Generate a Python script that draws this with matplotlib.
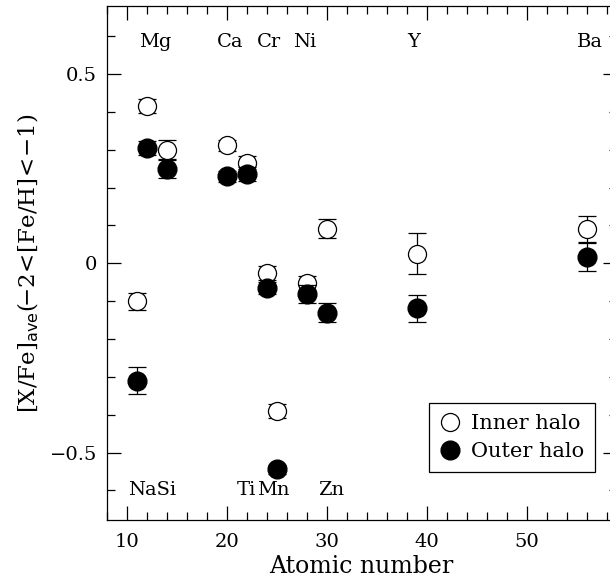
import matplotlib
matplotlib.use('Agg')
import matplotlib.pyplot as plt
from matplotlib.lines import Line2D
from matplotlib.ticker import MultipleLocator, FuncFormatter

# atomic numbers: Na Mg Si Ca Ti Cr Mn Ni Zn Y Ba
atomic_z = [11, 12, 14, 20, 22, 24, 25, 28, 30, 39, 56]

inner_val = [-0.10, 0.415, 0.300, 0.312, 0.266, -0.026, -0.390, -0.052, 0.092, 0.026, 0.090]
inner_err = [0.022, 0.018, 0.025, 0.014, 0.018, 0.018, 0.018, 0.018, 0.024, 0.053, 0.036]

outer_val = [-0.31, 0.305, 0.250, 0.230, 0.236, -0.065, -0.544, -0.080, -0.130, -0.119, 0.018]
outer_err = [0.035, 0.018, 0.024, 0.014, 0.018, 0.015, 0.012, 0.024, 0.026, 0.035, 0.038]

top_labels = ['Mg', 'Ca', 'Cr', 'Ni', 'Y', 'Ba']
top_label_x = [11.2, 19.0, 23.0, 26.6, 38.0, 55.0]
bottom_labels = ['NaSi', 'Ti', 'Mn', 'Zn']
bottom_label_x = [10.1, 21.0, 23.0, 29.1]

plt.rcParams['font.family'] = ['DejaVu Serif']
plt.rcParams['mathtext.fontset'] = 'dejavuserif'

fig = plt.figure(figsize=(6.1, 5.82), dpi=100)
ax = fig.add_axes([0.175, 0.1065, 0.836, 0.8833])

ax.errorbar(atomic_z, inner_val, yerr=inner_err, fmt='o', ms=13,
            mfc='white', mec='black', mew=0.9, ecolor='black',
            elinewidth=0.9, capsize=6.5, capthick=0.9, zorder=3)
ax.errorbar(atomic_z, outer_val, yerr=outer_err, fmt='o', ms=13.5,
            mfc='black', mec='black', ecolor='black',
            elinewidth=0.9, capsize=6.5, capthick=0.9, zorder=4)

for lab, x in zip(top_labels, top_label_x):
    ax.text(x, 0.585, lab, ha='left', va='center', fontsize=14)
for lab, x in zip(bottom_labels, bottom_label_x):
    ax.text(x, -0.60, lab, ha='left', va='center', fontsize=14)

ax.set_xlim(8, 59)
ax.set_ylim(-0.678, 0.68)
ax.xaxis.set_major_locator(MultipleLocator(10))
ax.xaxis.set_minor_locator(MultipleLocator(2))
ax.yaxis.set_major_locator(MultipleLocator(0.5))
ax.yaxis.set_minor_locator(MultipleLocator(0.1))
ax.yaxis.set_major_formatter(FuncFormatter(
    lambda v, p: '0' if abs(v) < 1e-9 else f'{v:.1f}'.replace('-', '\u2212')))
ax.tick_params(which='both', direction='in', top=True, right=True,
               labelsize=14, width=0.9)
ax.tick_params(which='major', length=10)
ax.tick_params(which='minor', length=5.5)
ax.tick_params(axis='x', pad=9)
ax.tick_params(axis='y', pad=7)
for s in ax.spines.values():
    s.set_linewidth(0.9)

ax.set_xlabel('Atomic number', fontsize=17, labelpad=3)
ax.set_ylabel(r'$[\mathrm{X/Fe}]_{\mathsf{ave}}(\!{-}2\!<\![\mathrm{Fe/H}]\!<\!{-}1)$',
              fontsize=16.5, labelpad=6)

handles = [Line2D([], [], ls='none', marker='o', ms=13, mfc='white', mec='black', mew=0.9),
           Line2D([], [], ls='none', marker='o', ms=13.5, mfc='black', mec='black')]
leg = ax.legend(handles, ['Inner halo', 'Outer halo'], loc='lower right',
                bbox_to_anchor=(0.9575, 0.094), borderaxespad=0, fontsize=15,
                fancybox=False, edgecolor='black', framealpha=1,
                handlelength=1.0, handletextpad=0.55, borderpad=0.5,
                labelspacing=0.45)
leg.get_frame().set_linewidth(0.9)

fig.savefig('out.png', dpi=100)
